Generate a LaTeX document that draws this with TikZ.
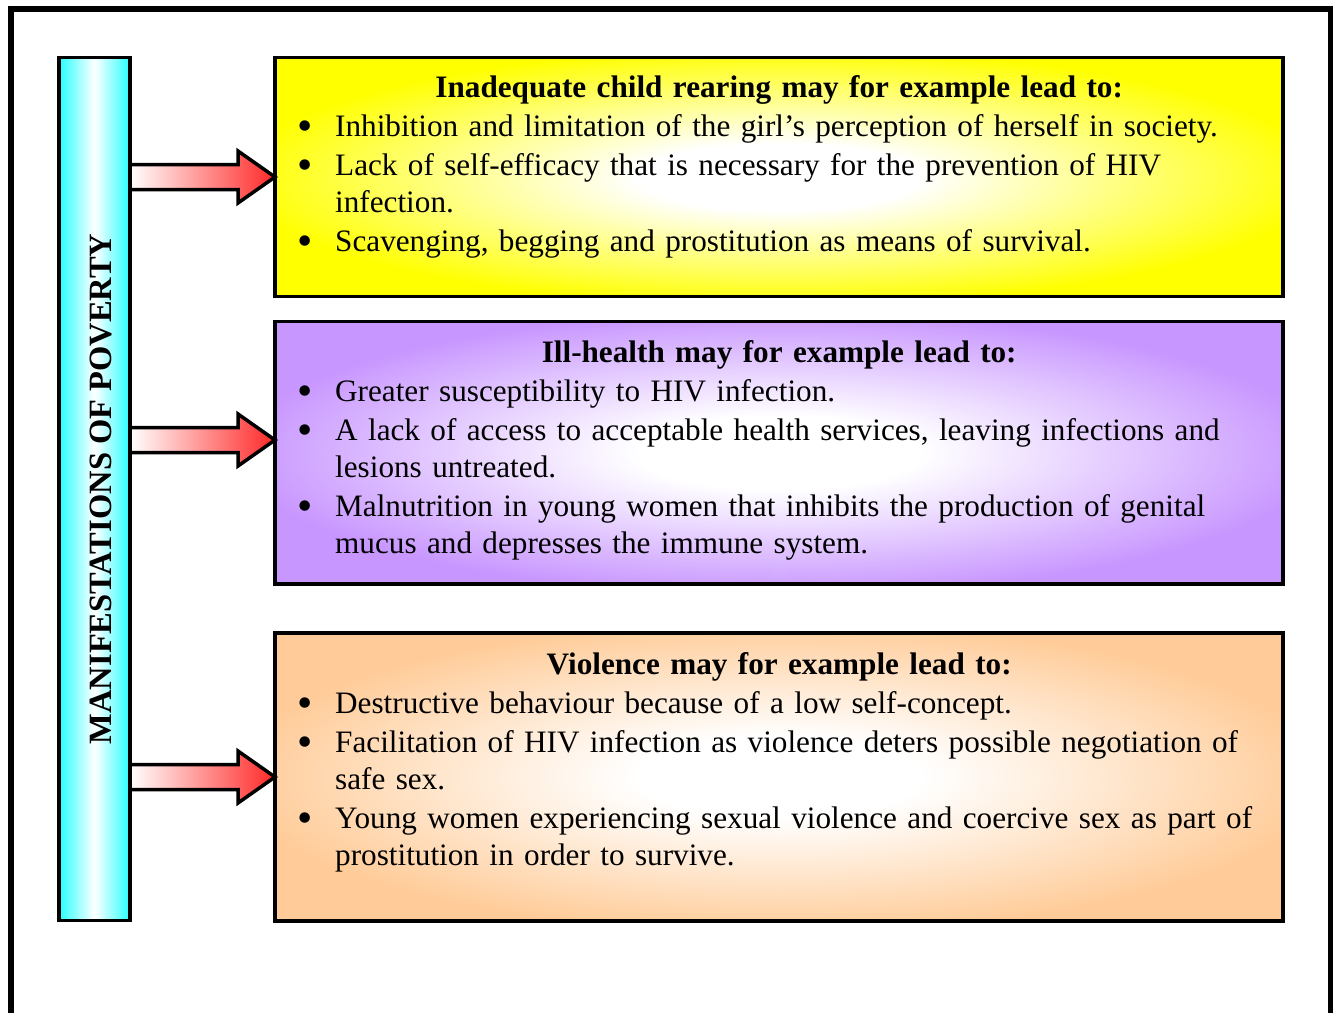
\documentclass[tikz,border=0pt]{standalone}
\usepackage{fontspec}
\setmainfont{Liberation Serif}
\usetikzlibrary{calc}

\definecolor{barcyan}{RGB}{40,255,255}
\definecolor{rearyellow}{RGB}{255,255,0}
\definecolor{healthviolet}{RGB}{200,150,255}
\definecolor{violencepeach}{RGB}{255,204,153}
\definecolor{arrowred}{RGB}{255,40,40}

% soft white glow in the middle of each panel
\pgfdeclareradialshading{glowyellow}{\pgfpoint{0bp}{0bp}}{color(0bp)=(white); color(7bp)=(white); color(27bp)=(rearyellow); color(50bp)=(rearyellow)}
\pgfdeclareradialshading{glowviolet}{\pgfpoint{0bp}{0bp}}{color(0bp)=(white); color(7bp)=(white); color(27bp)=(healthviolet); color(50bp)=(healthviolet)}
\pgfdeclareradialshading{glowpeach}{\pgfpoint{0bp}{0bp}}{color(0bp)=(white); color(7bp)=(white); color(27bp)=(violencepeach); color(50bp)=(violencepeach)}

% one bulleted entry with a hanging indent
\newlength\itemind \setlength\itemind{60pt}
\newlength\bulind  \setlength\bulind{22pt}
\newcommand\pitem[1]{\par\vspace{2pt}\hangindent=\itemind\hangafter=1\noindent
  \makebox[\itemind][l]{\hspace{\bulind}\raisebox{-4pt}{\scalebox{1.4}{\textbullet}}}#1\par}

\tikzset{
  panel/.style={draw=black, line width=3.5pt, outer sep=0pt, inner sep=0pt,
    minimum width=1008pt},
  paneltext/.style={anchor=base west, inner sep=0pt, text width=1008pt,
    font=\fontsize{31.2pt}{37pt}\selectfont},
  blockarrow/.style={draw=black, line width=3.5pt, line join=miter,
    left color=white, right color=arrowred},
}

% block arrow from the bar to a point on a panel's left edge
\newcommand\povarrow[1]{%
  \draw[blockarrow] let \p1=(bar.east), \p2=(#1) in
    (\x1,\y2+12.5pt) -- (\x2-37pt,\y2+12.5pt) -- (\x2-37pt,\y2+26pt) -- (\x2,\y2)
    -- (\x2-37pt,\y2-26pt) -- (\x2-37pt,\y2-12.5pt) -- (\x1,\y2-12.5pt) -- cycle;}

\begin{document}
\begin{tikzpicture}[x=1pt, y=-1pt]
\useasboundingbox (0,0) rectangle (1341,1012);

% outer frame, open at the bottom
\draw[line width=5.5pt, line join=miter] (11,1020) -- (11,9) -- (1330.5,9) -- (1330.5,1020);

% vertical bar
\node[draw=black, line width=3.5pt, outer sep=0pt, inner sep=0pt,
  minimum width=71pt, minimum height=863pt,
  left color=barcyan, right color=barcyan, middle color=white] (bar) at (94.5,489) {};
\node[rotate=90, inner sep=0pt, font=\fontsize{32.5pt}{36pt}\selectfont\bfseries]
  (bartext) at (100.5,489) {MANIFESTATIONS OF POVERTY};

% panels
\node[panel, minimum height=239pt, shading=glowyellow]   (b1) at (779,177) {};
\node[panel, minimum height=262.5pt, shading=glowviolet] (b2) at (779,452.75) {};
\node[panel, minimum height=288pt, shading=glowpeach]    (b3) at (779,777) {};

% panel texts
\node[paneltext] (t1) at ($(b1.north west)+(0,40)$) {%
  {\centering\bfseries Inadequate child rearing may for example lead to:\par}\raggedright
  \pitem{Inhibition and limitation of the girl’s perception of herself in society.}
  \pitem{Lack of self-efficacy that is necessary for the prevention of HIV\newline infection.}
  \pitem{Scavenging, begging and prostitution as means of survival.}};

\node[paneltext] (t2) at ($(b2.north west)+(0,40.5)$) {%
  {\centering\bfseries Ill-health may for example lead to:\par}\raggedright
  \pitem{Greater susceptibility to HIV infection.}
  \pitem{A lack of access to acceptable health services, leaving infections and\newline lesions untreated.}
  \pitem{Malnutrition in young women that inhibits the production of genital\newline mucus and depresses the immune system.}};

\node[paneltext] (t3) at ($(b3.north west)+(0,41)$) {%
  {\centering\bfseries Violence may for example lead to:\par}\raggedright
  \pitem{Destructive behaviour because of a low self-concept.}
  \pitem{Facilitation of HIV infection as violence deters possible negotiation of\newline safe sex.}
  \pitem{Young women experiencing sexual violence and coercive sex as part of\newline prostitution in order to survive.}};

% arrow targets on the panels' left edges
\coordinate (p1) at (b1.west);
\coordinate (p2) at ($(b2.west)+(0,-12.75)$);
\coordinate (p3) at (b3.west);

\povarrow{p1}
\povarrow{p2}
\povarrow{p3}
\end{tikzpicture}
\end{document}
